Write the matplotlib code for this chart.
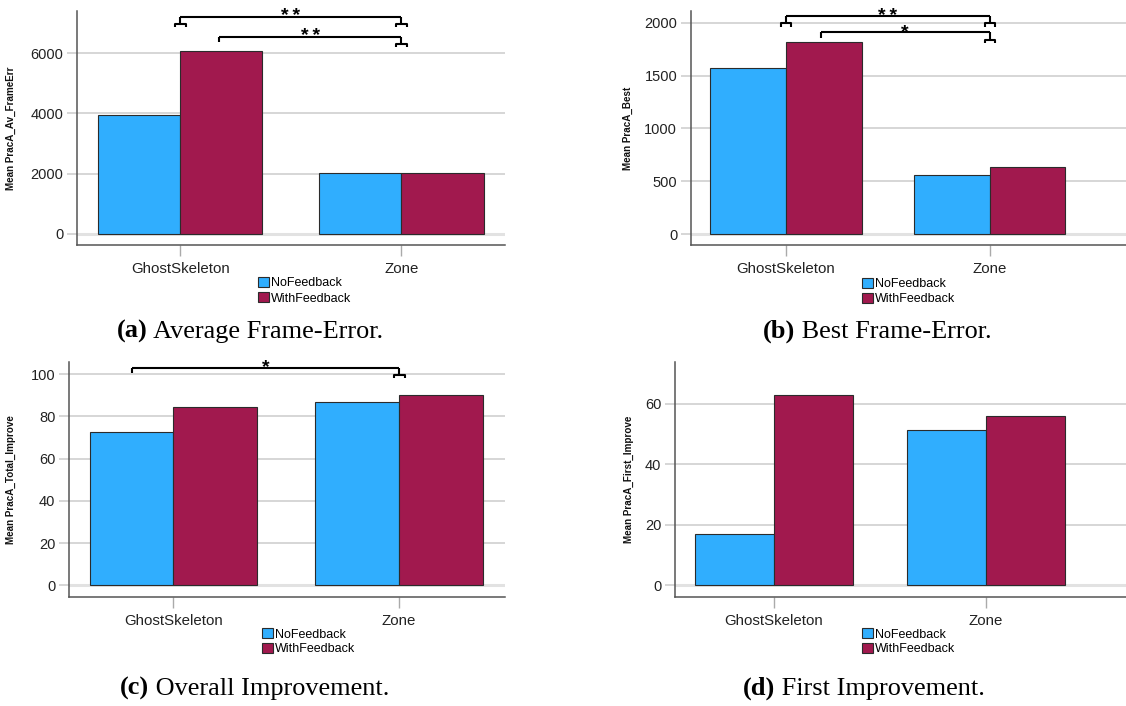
import numpy as np
import matplotlib
matplotlib.use("Agg")
import matplotlib.pyplot as plt

# category / series names
groups = ["GhostSkeleton", "Zone"]
series = ["NoFeedback", "WithFeedback"]

# values
avg_frame_err_no = [3950, 2010]
avg_frame_err_with = [6080, 2020]
best_no = [1570, 556]
best_with = [1815, 632]
total_improve_no = [72.8, 86.7]
total_improve_with = [84.5, 89.9]
first_improve_no = [16.8, 51.4]
first_improve_with = [62.9, 56.0]

ylabels = ["Mean PracA_Av_FrameErr", "Mean PracA_Best",
           "Mean PracA_Total_Improve", "Mean PracA_First_Improve"]
yticks = [[0, 2000, 4000, 6000], [0, 500, 1000, 1500, 2000],
          [0, 20, 40, 60, 80, 100], [0, 20, 40, 60]]
caption_tags = ["(a)", "(b)", "(c)", "(d)"]
caption_texts = [" Average Frame-Error.", " Best Frame-Error.",
                 " Overall Improvement.", " First Improvement."]

# significance brackets: (x_start, x_end, y, label, serif_left, serif_right)
brackets = [
    [(0.0, 1.0, 7207, "**", True, True), (0.175, 1.0, 6544, "**", False, True)],
    [(0.0, 1.0, 2064, "**", True, True), (0.17, 1.0, 1910, "*", False, True)],
    [(-0.182, 1.0, 103.0, "*", False, True)],
    [],
]

BLUE = "#30AEFE"
RED = "#A1194E"
EDGE = "#2B2B2B"
GRID = "#CFCFCF"

W, H = 1126, 706
fig = plt.figure(figsize=(W / 100, H / 100), dpi=100)
plt.rcParams["font.family"] = ["Liberation Sans", "DejaVu Sans"]

# panel layout in pixels: left, top, right, bottom, xlim, ylim
layout = [
    (77, 11, 505, 245, (-0.466, 1.468), (-365, 7396)),
    (691, 11, 1126, 245, (-0.466, 1.668), (-104, 2112)),
    (69, 362, 505, 597, (-0.463, 1.469), (-5.5, 105.7)),
    (675, 362, 1126, 597, (-0.466, 1.66), (-3.9, 73.9)),
]
ylabel_x = [16, 633, 16, 634]
legend_xy = [(258, 277), (862, 278), (262, 628), (862, 628)]
caption_xy = [(117, 331), (763, 331), (120, 688), (743, 688)]

data = [
    (avg_frame_err_no, avg_frame_err_with),
    (best_no, best_with),
    (total_improve_no, total_improve_with),
    (first_improve_no, first_improve_with),
]

width = 0.371
x = np.arange(len(groups))

for i, (left, top, right, bottom, xlim, ylim) in enumerate(layout):
    ax = fig.add_axes([left / W, 1 - bottom / H, (right - left) / W, (bottom - top) / H])
    no_vals, with_vals = data[i]
    b_no = ax.bar(x - width / 2, no_vals, width, color=BLUE, edgecolor=EDGE,
                  linewidth=0.8, label=series[0], zorder=3)
    b_with = ax.bar(x + width / 2, with_vals, width, color=RED, edgecolor=EDGE,
                    linewidth=0.8, label=series[1], zorder=3)

    ax.set_xlim(*xlim)
    ax.set_ylim(*ylim)
    ax.set_yticks(yticks[i])
    ax.set_xticks(x)
    ax.set_xticklabels(groups)

    # gridlines, zero line a bit heavier
    for t in yticks[i]:
        if t == 0:
            ax.axhline(t, color="#E2E2E2", linewidth=2.2, zorder=1)
        else:
            ax.axhline(t, color=GRID, linewidth=1.2, zorder=1)

    for s in ["top", "right"]:
        ax.spines[s].set_visible(False)
    for s in ["left", "bottom"]:
        ax.spines[s].set_color("#555555")
        ax.spines[s].set_linewidth(1.1)

    ax.tick_params(axis="y", length=7.2, width=1.2, color=GRID, pad=2.7,
                   labelsize=10.5, labelcolor="#222222")
    ax.tick_params(axis="x", length=8, width=1.0, color="#AAAAAA", pad=4,
                   labelsize=10.8, labelcolor="#222222")

    ax.set_ylabel(ylabels[i], fontsize=7.1, color="#111111", weight="bold")
    ax.yaxis.set_label_coords((ylabel_x[i] - left) / (right - left), 0.5)

    # significance brackets
    yr = ylim[1] - ylim[0]
    for x0, x1, yb, lab, sl, sr in brackets[i]:
        kw = dict(color="black", linewidth=1.5, clip_on=False, zorder=5,
                  solid_capstyle="butt")
        ax.plot([x0, x1], [yb, yb], **kw)
        for xe, serif in [(x0, sl), (x1, sr)]:
            if serif:
                ys = yb - 0.031 * yr
                ax.plot([xe, xe], [yb, ys], **kw)
                ax.plot([xe - 0.025, xe - 0.025, xe + 0.025, xe + 0.025],
                        [ys - 0.014 * yr, ys, ys, ys - 0.014 * yr], **kw)
            else:
                ax.plot([xe, xe], [yb, yb - 0.024 * yr], **kw)
        ax.annotate("\u2009".join(lab), xy=((x0 + x1) / 2, yb), xytext=(0, -3.2),
                    textcoords="offset points", ha="center", va="baseline",
                    fontsize=14, weight="bold", annotation_clip=False)

    # legend below the axis
    lx, ly = legend_xy[i]
    fig.legend(handles=[b_no, b_with], labels=series, loc="upper left",
               bbox_to_anchor=(lx / W, 1 - ly / H), frameon=False,
               fontsize=9, borderpad=0, borderaxespad=0, handlelength=0.85,
               handleheight=0.9, handletextpad=0.15, labelspacing=0.2)

    # caption, bold tag then plain text
    cx, cy = caption_xy[i]
    t = fig.text(cx / W, 1 - cy / H, caption_tags[i], fontsize=18.9,
                 family="Liberation Serif", weight="bold", va="center", ha="left")
    ax.annotate(caption_texts[i], xy=(1, 0), xycoords=t, va="bottom", ha="left",
                fontsize=18.9, family="Liberation Serif", annotation_clip=False)

fig.savefig("out.png", dpi=100)
